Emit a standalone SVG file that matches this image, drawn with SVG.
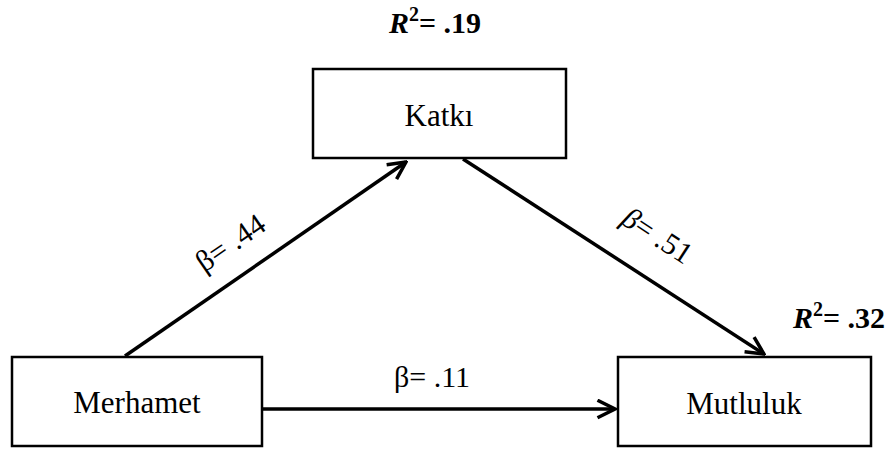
<svg xmlns="http://www.w3.org/2000/svg" width="895" height="449" viewBox="0 0 895 449">
<defs>
<marker id="arr" viewBox="0 0 12 12" refX="11" refY="6" markerWidth="6" markerHeight="6" markerUnits="strokeWidth" orient="auto">
<path d="M1,1 L11,6 L1,11" fill="none" stroke="#000" stroke-width="2"/>
</marker>
<style>
.box{fill:#fff;stroke:#000;stroke-width:2.5}
.lbl{font-family:"Liberation Serif","Times New Roman",serif;font-size:31px;fill:#000;text-anchor:middle}
.r2{font-family:"Liberation Serif","Times New Roman",serif;font-size:30px;font-weight:bold;fill:#000}
.beta{font-family:"Liberation Serif","Times New Roman",serif;font-size:30px;fill:#000;text-anchor:middle}
.edge{stroke:#000;stroke-width:3.5;fill:none;marker-end:url(#arr)}
</style>
</defs>
<rect width="895" height="449" fill="#fff"/>
<g id="connectors">
<line class="edge" x1="125" y1="356" x2="406" y2="162"/>
<line class="edge" x1="463" y1="159" x2="764" y2="354"/>
<line class="edge" x1="263" y1="409" x2="615" y2="409"/>
<text class="beta" transform="translate(236,251) rotate(-34.7)">β= .44</text>
<text class="beta" transform="translate(652,244) rotate(33)"><tspan font-style="italic">β</tspan>= .51</text>
<text class="beta" x="432" y="387">β= .11</text>
</g>
<g id="katki">
<rect class="box" x="313" y="69" width="253" height="89"/>
<text class="lbl" x="439" y="126">Katkı</text>
<text class="r2" x="389" y="33"><tspan font-style="italic">R</tspan><tspan font-size="20" dy="-12">2</tspan><tspan dy="12">= .19</tspan></text>
</g>
<g id="merhamet">
<rect class="box" x="12" y="357" width="250" height="89"/>
<text class="lbl" x="137" y="413">Merhamet</text>
</g>
<g id="mutluluk">
<rect class="box" x="618" y="357" width="253" height="89"/>
<text class="lbl" x="744" y="414">Mutluluk</text>
<text class="r2" x="793" y="328"><tspan font-style="italic">R</tspan><tspan font-size="20" dy="-12">2</tspan><tspan dy="12">= .32</tspan></text>
</g>
</svg>
